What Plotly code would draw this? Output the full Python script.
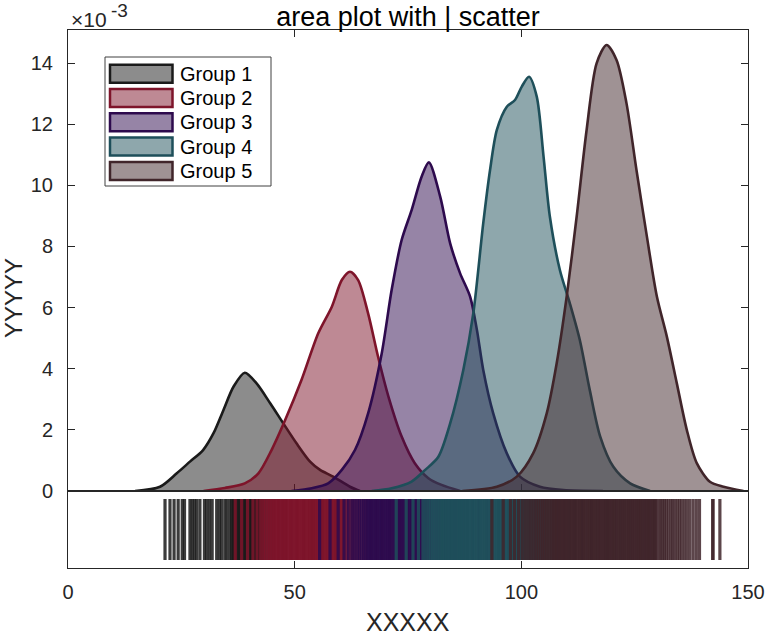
import numpy as np
import plotly.graph_objects as go

# ---------------- data ----------------
GROUPS = ["Group 1", "Group 2", "Group 3", "Group 4", "Group 5"]
EDGE = ["#1a1a1a", "#7e142a", "#2d0a4d", "#1e4f5a", "#40252a"]

# density curves (y in units of 1e-3)
G1_X = [14.8, 20.3, 24.0, 26.9, 29.8, 32.1, 34.3, 36.5, 39.0, 41.6, 44.6, 47.5, 50.4, 53.4, 55.6, 58.5, 62.2, 64.4]
G1_Y = [0, 0.14, 0.58, 0.96, 1.34, 1.89, 2.65, 3.41, 3.87, 3.52, 2.87, 2.21, 1.56, 0.96, 0.69, 0.47, 0.14, 0]
G2_X = [29.9, 34.6, 39.0, 42.0, 44.9, 47.9, 51.5, 55.2, 58.2, 60.4, 62.2, 64.0, 66.2, 68.4, 70.7, 73.6, 76.5, 79.5, 82.4, 86.5]
G2_Y = [0, 0.10, 0.25, 0.58, 1.34, 2.32, 3.63, 5.16, 6.03, 6.90, 7.17, 6.90, 5.81, 4.39, 3.08, 1.78, 0.91, 0.42, 0.20, 0]
G3_X = [49.3, 53.8, 57.4, 60.4, 63.3, 66.2, 69.2, 71.4, 73.6, 75.8, 78.0, 79.6, 82.1, 84.3, 86.5, 88.7, 90.2, 91.6, 93.8, 96.8, 99.7, 104.1, 109.3, 118.0]
G3_Y = [0, 0.09, 0.25, 0.69, 1.34, 2.54, 4.50, 6.58, 8.21, 9.19, 10.28, 10.75, 9.63, 8.10, 7.12, 6.36, 5.27, 3.96, 2.54, 1.23, 0.47, 0.14, 0.03, 0]
G4_X = [67.0, 71.4, 75.8, 78.8, 81.7, 84.3, 87.2, 89.4, 91.6, 93.1, 94.6, 96.8, 98.6, 100.1, 101.7, 103.4, 104.9, 106.3, 108.5, 110.7, 112.9, 115.1, 117.4, 120.3, 124.0, 128.4]
G4_Y = [0, 0.09, 0.31, 0.69, 1.12, 2.21, 3.96, 5.81, 8.76, 10.50, 11.81, 12.57, 12.79, 13.23, 13.55, 12.90, 10.94, 8.97, 7.23, 6.14, 4.94, 3.30, 1.78, 0.79, 0.25, 0]
G5_X = [87.0, 94.6, 99.0, 102.6, 105.6, 107.8, 110.0, 112.2, 114.4, 116.6, 118.8, 121.0, 123.2, 125.4, 127.7, 129.9, 132.1, 134.3, 136.5, 138.7, 141.6, 144.6, 149.0]
G5_Y = [0, 0.14, 0.47, 1.23, 2.54, 4.18, 6.36, 8.97, 11.81, 13.99, 14.59, 14.10, 12.68, 10.50, 8.32, 6.36, 5.05, 3.52, 2.00, 0.91, 0.30, 0.14, 0]

# individual observations (rug / "|" scatter)
G1_RUG = [21.4, 22.5, 23.4, 24.3, 25.2, 25.7, 26.9, 27.4, 27.9, 28.4, 29.1, 30.1, 30.6, 31.2, 31.8, 32.8, 33.4, 33.9,
          34.6, 35.1, 35.7, 36.1, 36.4, 36.6, 36.9, 37.1, 37.4, 37.7, 37.9, 38.2, 38.4, 38.7, 38.9, 39.2, 39.4, 39.7,
          40.0, 40.2, 40.5, 40.7, 41.0, 41.3, 41.5, 41.8, 42.1, 42.4, 42.8, 43.2, 43.7, 44.3, 44.9, 45.6, 46.4, 47.3,
          48.1, 49.2, 50.5, 52.0, 53.8, 56.1, 59.0]
G2_RUG = [36.9, 38.3, 39.6, 40.8, 41.7, 42.5, 43.1, 43.6, 44.1, 44.5, 44.9, 45.2, 45.5, 45.7, 46.0, 46.3, 46.5, 46.8,
          47.0, 47.3, 47.6, 47.8, 48.1, 48.3, 48.6, 48.9, 49.1, 49.4, 49.6, 49.9, 50.2, 50.4, 50.7, 50.9, 51.2, 51.5,
          51.7, 52.0, 52.2, 52.5, 52.8, 53.0, 53.3, 53.5, 53.8, 54.1, 54.3, 54.6, 54.8, 55.1, 55.4, 55.6, 55.9, 56.1,
          56.4, 56.7, 56.9, 57.2, 57.4, 57.7, 58.0, 58.2, 58.5, 58.7, 59.0, 59.3, 59.5, 59.8, 60.0, 60.3, 60.6, 60.8,
          61.1, 61.5, 61.9, 62.4, 62.8, 63.3, 63.9, 64.4, 65.1, 65.8, 66.8, 67.9, 69.3, 71.0, 73.2, 76.0]
G3_RUG = [55.5, 57.8, 59.6, 60.9, 61.8, 62.6, 63.2, 63.8, 64.3, 64.8, 65.2, 65.6, 66.0, 66.3, 66.5, 66.8, 67.0, 67.3,
          67.5, 67.8, 68.1, 68.3, 68.6, 68.8, 69.1, 69.3, 69.6, 69.9, 70.1, 70.4, 70.6, 70.9, 71.1, 71.4, 71.7, 71.9,
          72.2, 72.4, 72.7, 73.0, 73.2, 73.5, 73.7, 74.0, 74.2, 74.5, 74.8, 75.0, 75.3, 75.5, 75.8, 76.0, 76.3, 76.6,
          76.8, 77.1, 77.3, 77.6, 77.8, 78.1, 78.4, 78.6, 78.9, 79.1, 79.4, 79.7, 80.0, 80.4, 80.9, 81.3, 81.8, 82.3,
          82.8, 83.3, 83.9, 84.4, 85.0, 85.7, 86.4, 87.2, 88.1, 89.2, 90.6, 92.3, 95.0]
G4_RUG = [72.4, 74.6, 76.1, 77.3, 78.3, 78.9, 79.5, 80.0, 80.4, 80.8, 81.2, 81.6, 82.0, 82.3, 82.5, 82.8, 83.0, 83.3,
          83.5, 83.8, 84.1, 84.3, 84.6, 84.8, 85.1, 85.3, 85.6, 85.9, 86.1, 86.4, 86.6, 86.9, 87.1, 87.4, 87.7, 87.9,
          88.2, 88.4, 88.7, 89.0, 89.2, 89.5, 89.7, 90.0, 90.2, 90.5, 90.8, 91.0, 91.3, 91.5, 91.8, 92.0, 92.3, 92.6,
          92.8, 93.1, 93.3, 93.6, 93.8, 94.1, 94.4, 94.6, 94.9, 95.1, 95.4, 95.6, 95.9, 96.2, 96.4, 96.7, 96.9, 97.2,
          97.4, 97.7, 98.0, 98.2, 98.5, 98.7, 99.0, 99.2, 99.5, 99.8, 100.0, 100.3, 100.5, 100.8, 101.0, 101.3, 101.6,
          101.8, 102.1, 102.3, 102.6, 102.8, 103.1, 103.4, 103.6, 103.9, 104.2, 104.6, 105.0, 105.4, 105.8, 106.2,
          106.7, 107.2, 107.8, 108.5, 109.4, 110.5, 111.8, 113.4, 115.5, 119.0]
G5_RUG = [93.5, 96.0, 97.6, 98.5, 99.4, 100.2, 100.9, 101.6, 102.2, 102.8, 103.3, 103.8, 104.3, 104.7, 105.1, 105.5,
          105.9, 106.3, 106.7, 107.0, 107.3, 107.5, 107.8, 108.0, 108.3, 108.5, 108.8, 109.1, 109.3, 109.6, 109.8,
          110.1, 110.3, 110.6, 110.9, 111.1, 111.4, 111.6, 111.9, 112.1, 112.4, 112.7, 112.9, 113.2, 113.4, 113.7,
          113.9, 114.2, 114.5, 114.7, 115.0, 115.2, 115.5, 115.7, 116.0, 116.3, 116.5, 116.8, 117.0, 117.3, 117.5,
          117.8, 118.1, 118.3, 118.6, 118.8, 119.1, 119.3, 119.6, 119.9, 120.1, 120.4, 120.6, 120.9, 121.1, 121.4,
          121.7, 121.9, 122.2, 122.4, 122.7, 122.9, 123.2, 123.5, 123.7, 124.0, 124.2, 124.5, 124.7, 125.0, 125.3,
          125.5, 125.8, 126.0, 126.3, 126.5, 126.8, 127.1, 127.3, 127.6, 127.8, 128.1, 128.3, 128.6, 128.9, 129.1,
          129.4, 129.6, 129.9, 130.4, 130.8, 131.2, 131.6, 132.0, 132.5, 133.0, 133.4, 133.9, 134.4, 134.9, 135.4,
          136.0, 136.6, 137.2, 137.9, 138.6, 139.3, 142.2, 142.3, 143.8]

XTICKS = [0, 50, 100, 150]
YTICKS_E3 = [0, 2, 4, 6, 8, 10, 12, 14]
YTICK_LABELS = ["0", "2", "4", "6", "8", "10", "12", "14"]
X_RANGE = [0, 150]
Y_MAX_E3 = 15.08

CURVES_X = [G1_X, G2_X, G3_X, G4_X, G5_X]
CURVES_Y = [G1_Y, G2_Y, G3_Y, G4_Y, G5_Y]
RUGS = [G1_RUG, G2_RUG, G3_RUG, G4_RUG, G5_RUG]

# ---------------- style ----------------
FONT = "Liberation Sans, Arial, Helvetica, sans-serif"
AX = "#262626"
W, H = 767, 635
ML, MR, MT, MB = 68, 19, 30, 67
SPLIT = 77 / 538  # fraction of plot height used by the rug axes


def rgba(hexc, a):
    h = hexc.lstrip("#")
    r, g, b = int(h[0:2], 16), int(h[2:4], 16), int(h[4:6], 16)
    return f"rgba({r},{g},{b},{a})"


fig = go.Figure()

for i in range(5):
    fig.add_trace(go.Scatter(
        x=CURVES_X[i], y=np.array(CURVES_Y[i]) * 1e-3,
        mode="lines", fill="tozeroy", fillcolor=rgba(EDGE[i], 0.5),
        line=dict(color=EDGE[i], width=2.6, shape="spline", smoothing=0.8),
        xaxis="x", yaxis="y", showlegend=False, hoverinfo="skip"))

for i in range(5):
    fig.add_trace(go.Scatter(
        x=RUGS[i], y=[0.5] * len(RUGS[i]), mode="markers",
        marker=dict(symbol="line-ns", size=43.6, color=rgba(EDGE[i], 0.85),
                    line=dict(color=rgba(EDGE[i], 0.85), width=3.2)),
        xaxis="x2", yaxis="y2", showlegend=False, hoverinfo="skip"))

common_ax = dict(showgrid=False, zeroline=False, showline=True, linecolor=AX, linewidth=1,
                 ticks="inside", ticklen=7, tickcolor=AX, tickwidth=1, automargin=False)

fig.update_layout(
    width=W, height=H, margin=dict(l=ML, r=MR, t=MT, b=MB, autoexpand=False),
    paper_bgcolor="white", plot_bgcolor="white",
    font=dict(family=FONT, size=20, color=AX),
    xaxis=dict(domain=[0, 1], range=X_RANGE, tickvals=XTICKS, showticklabels=False,
               mirror="ticks", anchor="y", layer="below traces", **common_ax),
    yaxis=dict(domain=[SPLIT, 1], range=[0, Y_MAX_E3 * 1e-3],
               tickvals=[v * 1e-3 for v in YTICKS_E3], ticktext=YTICK_LABELS,
               mirror="ticks", anchor="x", ticklabelstandoff=10, layer="below traces", **common_ax),
    xaxis2=dict(domain=[0, 1], range=X_RANGE, tickvals=XTICKS, ticktext=[str(v) for v in XTICKS],
                mirror=True, anchor="y2", ticklabelstandoff=6, **common_ax),
    yaxis2=dict(domain=[0, SPLIT], range=[0, 1], showticklabels=False, showgrid=False, zeroline=False,
                showline=True, linecolor=AX, linewidth=1, mirror=True, ticks="", anchor="x2",
                automargin=False),
    title=dict(text="area plot with | scatter", x=0.5, xref="paper", y=1 - 17 / H, yanchor="middle",
               font=dict(family=FONT, size=27, color="black")),
    showlegend=False,
)


def px_x(px):
    return (px - ML) / (W - ML - MR)


def px_y(py):
    return (H - MB - py) / (H - MT - MB)


annotations = [
    dict(text="XXXXX", x=0.5, y=px_y(622), xref="paper", yref="paper", showarrow=False,
         xanchor="center", yanchor="middle", font=dict(family=FONT, size=25, color=AX)),
    dict(text="YYYYY", x=px_x(13), y=px_y(298), xref="paper", yref="paper", showarrow=False,
         textangle=-90, xanchor="center", yanchor="middle", font=dict(family=FONT, size=24, color=AX)),
    dict(text="×10", x=px_x(69), y=px_y(19), xref="paper", yref="paper", showarrow=False,
         xanchor="left", yanchor="middle", font=dict(family=FONT, size=21, color=AX)),
    dict(text="-3", x=px_x(109), y=px_y(10), xref="paper", yref="paper", showarrow=False,
         xanchor="left", yanchor="middle", font=dict(family=FONT, size=19, color=AX)),
]

shapes = [dict(type="rect", xref="paper", yref="paper", x0=px_x(105), x1=px_x(271), y0=px_y(186), y1=px_y(57),
               line=dict(color="#404040", width=1), fillcolor="white", layer="above")]
row_centers = [73.7, 97.9, 122.2, 146.6, 171.1]
for i in range(5):
    cy = row_centers[i]
    shapes.append(dict(type="rect", xref="paper", yref="paper", x0=px_x(110), x1=px_x(172.5),
                       y0=px_y(cy + 9), y1=px_y(cy - 9), line=dict(color=EDGE[i], width=2.5),
                       fillcolor=rgba(EDGE[i], 0.5), layer="above"))
    annotations.append(dict(text=GROUPS[i], x=px_x(178), y=px_y(cy), xref="paper", yref="paper",
                            showarrow=False, xanchor="left", yanchor="middle",
                            font=dict(family=FONT, size=20, color="black")))

fig.update_layout(annotations=annotations, shapes=shapes)

fig.write_html("out.html")
